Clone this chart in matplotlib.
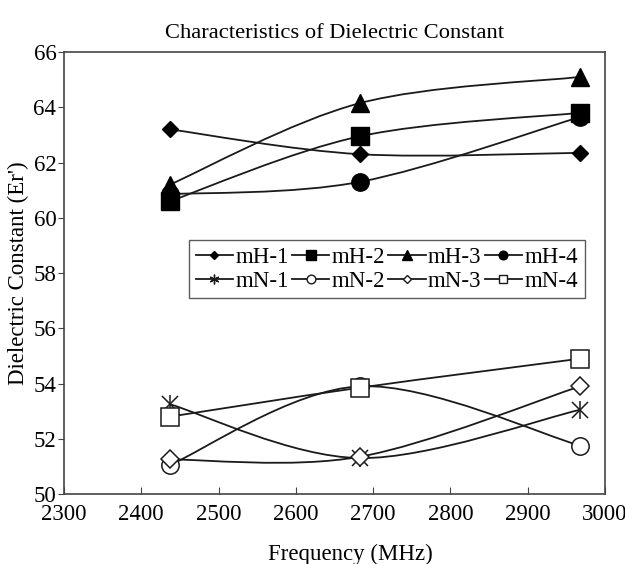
import numpy as np
import matplotlib
matplotlib.use('Agg')
import matplotlib.pyplot as plt
from matplotlib.path import Path
from matplotlib.patches import PathPatch
from matplotlib.lines import Line2D

plt.rcParams['font.family'] = ['Liberation Serif', 'DejaVu Serif']

freq = [2437, 2683, 2968]
mH_1 = [63.2, 62.3, 62.35]
mH_2 = [60.6, 62.95, 63.8]
mH_3 = [61.2, 64.15, 65.1]
mH_4 = [60.85, 61.3, 63.65]
mN_1 = [53.25, 51.3, 53.05]
mN_2 = [51.05, 53.9, 51.75]
mN_3 = [51.25, 51.35, 53.9]
mN_4 = [52.8, 53.85, 54.9]

names = ['mH-1', 'mH-2', 'mH-3', 'mH-4', 'mN-1', 'mN-2', 'mN-3', 'mN-4']
series = [mH_1, mH_2, mH_3, mH_4, mN_1, mN_2, mN_3, mN_4]
# marker, filled, size
styles = [('D', True, 8), ('s', True, 13), ('^', True, 13), ('o', True, 12.5),
          ('x', False, 11), ('o', False, 12.5), ('D', False, 9), ('s', False, 12.5)]

col = '#1a1a1a'


def smooth_path(x, y):
    # excel-like smoothed line: cubic bezier through the points
    px = [x[0]] + list(x) + [x[-1]]
    py = [y[0]] + list(y) + [y[-1]]
    verts = [(x[0], y[0])]
    codes = [Path.MOVETO]
    for i in range(1, len(px) - 2):
        c1 = (px[i] + (px[i + 1] - px[i - 1]) / 6, py[i] + (py[i + 1] - py[i - 1]) / 6)
        c2 = (px[i + 1] - (px[i + 2] - px[i]) / 6, py[i + 1] - (py[i + 2] - py[i]) / 6)
        verts += [c1, c2, (px[i + 1], py[i + 1])]
        codes += [Path.CURVE4] * 3
    return Path(verts, codes)


fig = plt.figure(figsize=(6.25, 5.64), dpi=100)
ax = fig.add_axes([0.1024, 0.1241, 0.8656, 0.7837])

handles = []
for name, vals, (m, filled, ms) in zip(names, series, styles):
    ax.add_patch(PathPatch(smooth_path(freq, vals), facecolor='none', edgecolor=col, lw=1.3, zorder=2))
    if m == 'x':
        ax.plot(freq, vals, linestyle='none', marker='x', ms=ms, mec=col, mew=1.1, zorder=3)
        ax.plot(freq, vals, linestyle='none', marker='|', ms=ms * 1.2, mec=col, mew=1.1, zorder=3)
        h = Line2D([], [], color=col, lw=1.3, marker=(6, 2, 0), ms=7, mec=col, mew=1)
    elif filled:
        ax.plot(freq, vals, linestyle='none', marker=m, ms=ms, mfc='black', mec='black', zorder=3)
        h = Line2D([], [], color=col, lw=1.3, marker=m, ms=ms * 0.5, mfc='black', mec='black')
    else:
        ax.plot(freq, vals, linestyle='none', marker=m, ms=ms, mfc='white', mec=col, mew=1.1, zorder=3)
        h = Line2D([], [], color=col, lw=1.3, marker=m, ms=ms * 0.5, mfc='white', mec=col, mew=1)
    handles.append(h)

ax.set_xlim(2300, 3000)
ax.set_ylim(50, 66)
ax.set_xticks(range(2300, 3001, 100))
ax.set_yticks(range(50, 67, 2))
ax.tick_params(axis='x', direction='in', length=5, labelsize=16.5, pad=7, color='#444444')
ax.tick_params(axis='y', direction='out', length=4, labelsize=16.5, pad=1.5, color='#444444')
for s in ax.spines.values():
    s.set_color('#444444')
    s.set_linewidth(1.2)

ax.set_title('Characteristics of Dielectric Constant', fontsize=16.2, pad=10)
ax.set_xlabel('Frequency (MHz)', fontsize=16.5)
ax.xaxis.set_label_coords(0.529, -0.112)
ax.set_ylabel("Dielectric Constant (Er')", fontsize=16.5, labelpad=3)

# legend fills by column, so reorder to get mH in the first row
order = [0, 4, 1, 5, 2, 6, 3, 7]
leg = ax.legend([handles[i] for i in order], [names[i] for i in order], ncol=4,
                loc='upper left', bbox_to_anchor=(0.231, 0.575),
                fontsize=16.5, frameon=True, fancybox=False, handlelength=1.62,
                handletextpad=0.1, columnspacing=0.15, borderpad=0.3, labelspacing=0.12,
                borderaxespad=0)
leg.get_frame().set_edgecolor('#333333')
leg.get_frame().set_linewidth(1.0)

fig.savefig('out.png', dpi=100)
